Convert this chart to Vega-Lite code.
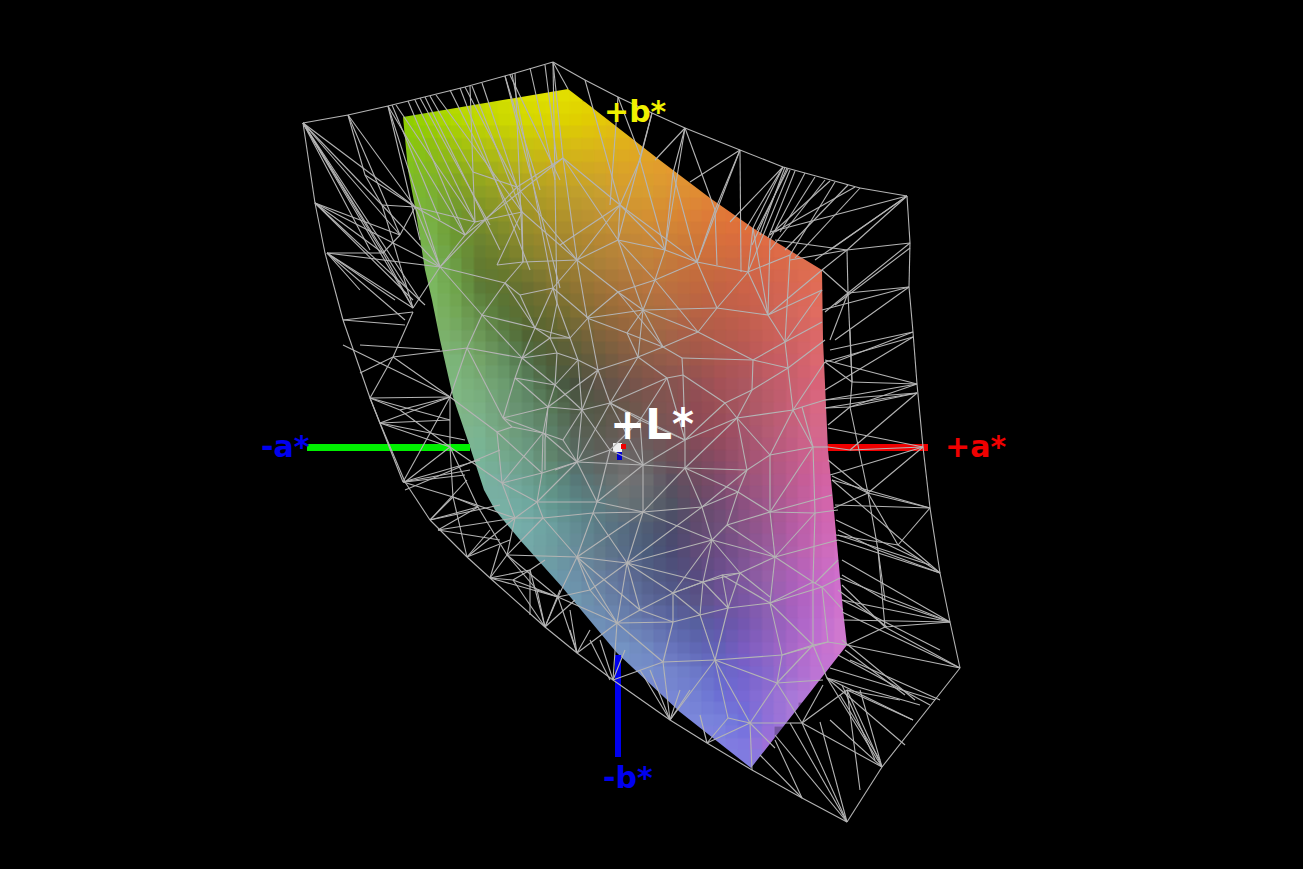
{"$schema":"https://vega.github.io/schema/vega-lite/v6.json","width":1303,"height":869,"padding":0,"autosize":{"type":"none"},"background":"#000000","view":{"stroke":null,"fill":"#000000"},
"config":{"axis":{"disable":true}},
"datasets":{
"cells":[
{"x":432,"y":96,"c":"#a8d800"},{"x":456,"y":96,"c":"#bcdc00"},{"x":480,"y":96,"c":"#c8dc00"},{"x":504,"y":96,"c":"#d4e000"},{"x":528,"y":96,"c":"#dce000"},{"x":552,"y":96,"c":"#e2e000"},{"x":576,"y":96,"c":"#e4dc00"},
{"x":408,"y":120,"c":"#90d000"},{"x":432,"y":120,"c":"#a0d400"},{"x":456,"y":120,"c":"#b0d800"},{"x":480,"y":120,"c":"#c0d800"},{"x":504,"y":120,"c":"#ccd800"},{"x":528,"y":120,"c":"#d4d800"},{"x":552,"y":120,"c":"#dcd400"},{"x":576,"y":120,"c":"#e0d000"},{"x":600,"y":120,"c":"#e4c808"},{"x":624,"y":120,"c":"#e4c010"},
{"x":408,"y":144,"c":"#88c810"},{"x":432,"y":144,"c":"#90c010"},{"x":456,"y":144,"c":"#a0c410"},{"x":480,"y":144,"c":"#b0c410"},{"x":504,"y":144,"c":"#bcc410"},{"x":528,"y":144,"c":"#c8c410"},{"x":552,"y":144,"c":"#d0c010"},{"x":576,"y":144,"c":"#d8bc14"},{"x":600,"y":144,"c":"#dcb818"},{"x":624,"y":144,"c":"#e0b01c"},{"x":648,"y":144,"c":"#e4a824"},
{"x":408,"y":168,"c":"#80c020"},{"x":432,"y":168,"c":"#84b820"},{"x":456,"y":168,"c":"#8cb01c"},{"x":480,"y":168,"c":"#9cb01c"},{"x":504,"y":168,"c":"#acb01c"},{"x":528,"y":168,"c":"#bcb01c"},{"x":552,"y":168,"c":"#c8ac1c"},{"x":576,"y":168,"c":"#d0ac20"},{"x":600,"y":168,"c":"#d4a824"},{"x":624,"y":168,"c":"#dca428"},{"x":648,"y":168,"c":"#e0a02c"},{"x":672,"y":168,"c":"#e49a30"},{"x":696,"y":168,"c":"#e49034"},
{"x":408,"y":192,"c":"#7cbc30"},{"x":432,"y":192,"c":"#7cb030"},{"x":456,"y":192,"c":"#7ca028"},{"x":480,"y":192,"c":"#8ca024"},{"x":504,"y":192,"c":"#9ca024"},{"x":528,"y":192,"c":"#aca024"},{"x":552,"y":192,"c":"#b8a028"},{"x":576,"y":192,"c":"#c0a02c"},{"x":600,"y":192,"c":"#c8a030"},{"x":624,"y":192,"c":"#d49c30"},{"x":648,"y":192,"c":"#d89c30"},{"x":672,"y":192,"c":"#dc9434"},{"x":696,"y":192,"c":"#e08c34"},{"x":720,"y":192,"c":"#e48438"},
{"x":408,"y":216,"c":"#7ab840"},{"x":432,"y":216,"c":"#78b040"},{"x":456,"y":216,"c":"#6f9830"},{"x":480,"y":216,"c":"#7c9028"},{"x":504,"y":216,"c":"#8c9428"},{"x":528,"y":216,"c":"#a09428"},{"x":552,"y":216,"c":"#ac9428"},{"x":576,"y":216,"c":"#b89430"},{"x":600,"y":216,"c":"#c09434"},{"x":624,"y":216,"c":"#cc9434"},{"x":648,"y":216,"c":"#d49034"},{"x":672,"y":216,"c":"#d88834"},{"x":696,"y":216,"c":"#dc8038"},{"x":720,"y":216,"c":"#e07838"},{"x":744,"y":216,"c":"#e47438"},{"x":768,"y":216,"c":"#e47040"},
{"x":408,"y":240,"c":"#7ab84c"},{"x":432,"y":240,"c":"#78b04c"},{"x":456,"y":240,"c":"#6c9834"},{"x":480,"y":240,"c":"#6c8430"},{"x":504,"y":240,"c":"#7c882c"},{"x":528,"y":240,"c":"#90882c"},{"x":552,"y":240,"c":"#a0882c"},{"x":576,"y":240,"c":"#ac8830"},{"x":600,"y":240,"c":"#b88834"},{"x":624,"y":240,"c":"#c08838"},{"x":648,"y":240,"c":"#c88838"},{"x":672,"y":240,"c":"#cc8038"},{"x":696,"y":240,"c":"#d07838"},{"x":720,"y":240,"c":"#d8703c"},{"x":744,"y":240,"c":"#dc6c40"},{"x":768,"y":240,"c":"#e06c44"},{"x":792,"y":240,"c":"#e46c48"},{"x":816,"y":240,"c":"#e46c4c"},
{"x":408,"y":264,"c":"#7ab85c"},{"x":432,"y":264,"c":"#7ab85c"},{"x":456,"y":264,"c":"#6c9c44"},{"x":480,"y":264,"c":"#647c30"},{"x":504,"y":264,"c":"#6c7c2c"},{"x":528,"y":264,"c":"#808030"},{"x":552,"y":264,"c":"#8f8030"},{"x":576,"y":264,"c":"#a08034"},{"x":600,"y":264,"c":"#ac8038"},{"x":624,"y":264,"c":"#b8803c"},{"x":648,"y":264,"c":"#c0803c"},{"x":672,"y":264,"c":"#c4783c"},{"x":696,"y":264,"c":"#c8703c"},{"x":720,"y":264,"c":"#cc6c40"},{"x":744,"y":264,"c":"#d06844"},{"x":768,"y":264,"c":"#d86848"},{"x":792,"y":264,"c":"#dc6c4c"},{"x":816,"y":264,"c":"#e06e50"},{"x":840,"y":264,"c":"#e06e54"},
{"x":408,"y":288,"c":"#7cb860"},{"x":432,"y":288,"c":"#7cb860"},{"x":456,"y":288,"c":"#70a44c"},{"x":480,"y":288,"c":"#5c7c38"},{"x":504,"y":288,"c":"#607430"},{"x":528,"y":288,"c":"#6c7030"},{"x":552,"y":288,"c":"#807430"},{"x":576,"y":288,"c":"#907434"},{"x":600,"y":288,"c":"#a07438"},{"x":624,"y":288,"c":"#ac743c"},{"x":648,"y":288,"c":"#b87440"},{"x":672,"y":288,"c":"#bc7040"},{"x":696,"y":288,"c":"#c06840"},{"x":720,"y":288,"c":"#c46444"},{"x":744,"y":288,"c":"#cc6448"},{"x":768,"y":288,"c":"#d06450"},{"x":792,"y":288,"c":"#d86854"},{"x":816,"y":288,"c":"#e06c58"},{"x":840,"y":288,"c":"#e06c5c"},
{"x":432,"y":312,"c":"#7fb868"},{"x":456,"y":312,"c":"#74a858"},{"x":480,"y":312,"c":"#648c48"},{"x":504,"y":312,"c":"#587438"},{"x":528,"y":312,"c":"#606c30"},{"x":552,"y":312,"c":"#6c6c30"},{"x":576,"y":312,"c":"#807034"},{"x":600,"y":312,"c":"#906c38"},{"x":624,"y":312,"c":"#a06c3c"},{"x":648,"y":312,"c":"#a87040"},{"x":672,"y":312,"c":"#b06c44"},{"x":696,"y":312,"c":"#b86444"},{"x":720,"y":312,"c":"#bc6048"},{"x":744,"y":312,"c":"#c4604c"},{"x":768,"y":312,"c":"#cc6454"},{"x":792,"y":312,"c":"#d4685c"},{"x":816,"y":312,"c":"#e06c60"},{"x":840,"y":312,"c":"#e06c64"},
{"x":432,"y":336,"c":"#80b870"},{"x":456,"y":336,"c":"#78ac68"},{"x":480,"y":336,"c":"#6c9858"},{"x":504,"y":336,"c":"#5c8048"},{"x":528,"y":336,"c":"#506434"},{"x":552,"y":336,"c":"#5c6434"},{"x":576,"y":336,"c":"#6c6438"},{"x":600,"y":336,"c":"#80643c"},{"x":624,"y":336,"c":"#906440"},{"x":648,"y":336,"c":"#9c6844"},{"x":672,"y":336,"c":"#a46448"},{"x":696,"y":336,"c":"#ac5c48"},{"x":720,"y":336,"c":"#b45c4c"},{"x":744,"y":336,"c":"#bc5c50"},{"x":768,"y":336,"c":"#c86058"},{"x":792,"y":336,"c":"#d06460"},{"x":816,"y":336,"c":"#dc6868"},{"x":840,"y":336,"c":"#e0686c"},
{"x":432,"y":360,"c":"#80b878"},{"x":456,"y":360,"c":"#7cb478"},{"x":480,"y":360,"c":"#74a468"},{"x":504,"y":360,"c":"#649060"},{"x":528,"y":360,"c":"#507048"},{"x":552,"y":360,"c":"#505c38"},{"x":576,"y":360,"c":"#5c5c3c"},{"x":600,"y":360,"c":"#6c5c40"},{"x":624,"y":360,"c":"#805c44"},{"x":648,"y":360,"c":"#8c5c48"},{"x":672,"y":360,"c":"#985c4c"},{"x":696,"y":360,"c":"#a0584c"},{"x":720,"y":360,"c":"#ac5850"},{"x":744,"y":360,"c":"#b45858"},{"x":768,"y":360,"c":"#c45c60"},{"x":792,"y":360,"c":"#cc6068"},{"x":816,"y":360,"c":"#dc6870"},{"x":840,"y":360,"c":"#dc6874"},
{"x":432,"y":384,"c":"#80b880"},{"x":456,"y":384,"c":"#7eb880"},{"x":480,"y":384,"c":"#78ac78"},{"x":504,"y":384,"c":"#6c9c70"},{"x":528,"y":384,"c":"#5c8460"},{"x":552,"y":384,"c":"#4c6444"},{"x":576,"y":384,"c":"#485040"},{"x":600,"y":384,"c":"#605448"},{"x":624,"y":384,"c":"#70544c"},{"x":648,"y":384,"c":"#80544c"},{"x":672,"y":384,"c":"#885450"},{"x":696,"y":384,"c":"#945254"},{"x":720,"y":384,"c":"#a45258"},{"x":744,"y":384,"c":"#ac5860"},{"x":768,"y":384,"c":"#bc5c68"},{"x":792,"y":384,"c":"#c86070"},{"x":816,"y":384,"c":"#d86478"},{"x":840,"y":384,"c":"#d8687c"},
{"x":432,"y":408,"c":"#80b888"},{"x":456,"y":408,"c":"#80b888"},{"x":480,"y":408,"c":"#7cb084"},{"x":504,"y":408,"c":"#709c78"},{"x":528,"y":408,"c":"#648c6c"},{"x":552,"y":408,"c":"#587858"},{"x":576,"y":408,"c":"#505c48"},{"x":600,"y":408,"c":"#585848"},{"x":624,"y":408,"c":"#68584c"},{"x":648,"y":408,"c":"#785850"},{"x":672,"y":408,"c":"#845454"},{"x":696,"y":408,"c":"#904c54"},{"x":720,"y":408,"c":"#9c5058"},{"x":744,"y":408,"c":"#a85864"},{"x":768,"y":408,"c":"#b85c6c"},{"x":792,"y":408,"c":"#c86078"},{"x":816,"y":408,"c":"#d86884"},{"x":840,"y":408,"c":"#d86888"},
{"x":456,"y":432,"c":"#80b890"},{"x":480,"y":432,"c":"#7cb490"},{"x":504,"y":432,"c":"#74a480"},{"x":528,"y":432,"c":"#689478"},{"x":552,"y":432,"c":"#5c8068"},{"x":576,"y":432,"c":"#586458"},{"x":600,"y":432,"c":"#5c5c50"},{"x":624,"y":432,"c":"#6c5c58"},{"x":648,"y":432,"c":"#705858"},{"x":672,"y":432,"c":"#7c5458"},{"x":696,"y":432,"c":"#8c4c58"},{"x":720,"y":432,"c":"#984c5c"},{"x":744,"y":432,"c":"#a4546c"},{"x":768,"y":432,"c":"#b45c74"},{"x":792,"y":432,"c":"#c46080"},{"x":816,"y":432,"c":"#d4688c"},{"x":840,"y":432,"c":"#d46890"},
{"x":456,"y":456,"c":"#80b898"},{"x":480,"y":456,"c":"#78b498"},{"x":504,"y":456,"c":"#74a88c"},{"x":528,"y":456,"c":"#6c9c84"},{"x":552,"y":456,"c":"#60846c"},{"x":576,"y":456,"c":"#586c64"},{"x":600,"y":456,"c":"#60605c"},{"x":624,"y":456,"c":"#6c6868"},{"x":648,"y":456,"c":"#686060"},{"x":672,"y":456,"c":"#705058"},{"x":696,"y":456,"c":"#7c4c5c"},{"x":720,"y":456,"c":"#8c4c64"},{"x":744,"y":456,"c":"#a05470"},{"x":768,"y":456,"c":"#b0587c"},{"x":792,"y":456,"c":"#c05c88"},{"x":816,"y":456,"c":"#d46494"},{"x":840,"y":456,"c":"#d86498"},
{"x":456,"y":480,"c":"#78b4a0"},{"x":480,"y":480,"c":"#78b4a0"},{"x":504,"y":480,"c":"#78aca0"},{"x":528,"y":480,"c":"#6ca090"},{"x":552,"y":480,"c":"#609080"},{"x":576,"y":480,"c":"#587878"},{"x":600,"y":480,"c":"#607070"},{"x":624,"y":480,"c":"#747474"},{"x":648,"y":480,"c":"#6c6c70"},{"x":672,"y":480,"c":"#5c5060"},{"x":696,"y":480,"c":"#704c60"},{"x":720,"y":480,"c":"#804c6c"},{"x":744,"y":480,"c":"#985478"},{"x":768,"y":480,"c":"#a85884"},{"x":792,"y":480,"c":"#bc5c90"},{"x":816,"y":480,"c":"#d060a0"},{"x":840,"y":480,"c":"#d868a8"},
{"x":480,"y":504,"c":"#78b0a4"},{"x":504,"y":504,"c":"#78b0a4"},{"x":528,"y":504,"c":"#70a8a0"},{"x":552,"y":504,"c":"#649890"},{"x":576,"y":504,"c":"#5c8888"},{"x":600,"y":504,"c":"#5c7c80"},{"x":624,"y":504,"c":"#687478"},{"x":648,"y":504,"c":"#606870"},{"x":672,"y":504,"c":"#505464"},{"x":696,"y":504,"c":"#644c68"},{"x":720,"y":504,"c":"#744c74"},{"x":744,"y":504,"c":"#8c5080"},{"x":768,"y":504,"c":"#a0588c"},{"x":792,"y":504,"c":"#b85c98"},{"x":816,"y":504,"c":"#cc64a8"},{"x":840,"y":504,"c":"#d868b0"},{"x":864,"y":504,"c":"#d868b0"},
{"x":480,"y":528,"c":"#78b0ac"},{"x":504,"y":528,"c":"#78b0ac"},{"x":528,"y":528,"c":"#74aca8"},{"x":552,"y":528,"c":"#6ca0a0"},{"x":576,"y":528,"c":"#648c94"},{"x":600,"y":528,"c":"#5c7c88"},{"x":624,"y":528,"c":"#566c80"},{"x":648,"y":528,"c":"#505c74"},{"x":672,"y":528,"c":"#4c4c6c"},{"x":696,"y":528,"c":"#604c70"},{"x":720,"y":528,"c":"#70507c"},{"x":744,"y":528,"c":"#885488"},{"x":768,"y":528,"c":"#9c5894"},{"x":792,"y":528,"c":"#b45ca4"},{"x":816,"y":528,"c":"#c864b0"},{"x":840,"y":528,"c":"#d86cb8"},{"x":864,"y":528,"c":"#d86cb8"},
{"x":504,"y":552,"c":"#74a8a8"},{"x":528,"y":552,"c":"#74a8a8"},{"x":552,"y":552,"c":"#6e9ca0"},{"x":576,"y":552,"c":"#688c9c"},{"x":600,"y":552,"c":"#647c8c"},{"x":624,"y":552,"c":"#586c88"},{"x":648,"y":552,"c":"#4c5c7c"},{"x":672,"y":552,"c":"#4c4c74"},{"x":696,"y":552,"c":"#604c78"},{"x":720,"y":552,"c":"#6c4c84"},{"x":744,"y":552,"c":"#805490"},{"x":768,"y":552,"c":"#985ca0"},{"x":792,"y":552,"c":"#b060ac"},{"x":816,"y":552,"c":"#c868b8"},{"x":840,"y":552,"c":"#d470c4"},{"x":864,"y":552,"c":"#d470c4"},
{"x":528,"y":576,"c":"#6c9cac"},{"x":552,"y":576,"c":"#6c9cac"},{"x":576,"y":576,"c":"#6c90a8"},{"x":600,"y":576,"c":"#6880a0"},{"x":624,"y":576,"c":"#607098"},{"x":648,"y":576,"c":"#546088"},{"x":672,"y":576,"c":"#505480"},{"x":696,"y":576,"c":"#584c80"},{"x":720,"y":576,"c":"#6c5090"},{"x":744,"y":576,"c":"#80589c"},{"x":768,"y":576,"c":"#9860a8"},{"x":792,"y":576,"c":"#ac60b8"},{"x":816,"y":576,"c":"#c468c4"},{"x":840,"y":576,"c":"#d070cc"},{"x":864,"y":576,"c":"#d070cc"},
{"x":552,"y":600,"c":"#7098b0"},{"x":576,"y":600,"c":"#7098b0"},{"x":600,"y":600,"c":"#6c88a8"},{"x":624,"y":600,"c":"#6478a4"},{"x":648,"y":600,"c":"#5c6898"},{"x":672,"y":600,"c":"#545c90"},{"x":696,"y":600,"c":"#5a5488"},{"x":720,"y":600,"c":"#6c5498"},{"x":744,"y":600,"c":"#7a58a4"},{"x":768,"y":600,"c":"#9060b0"},{"x":792,"y":600,"c":"#a860bc"},{"x":816,"y":600,"c":"#bc68c8"},{"x":840,"y":600,"c":"#d070cc"},{"x":864,"y":600,"c":"#d070cc"},
{"x":576,"y":624,"c":"#7090b8"},{"x":600,"y":624,"c":"#7090b8"},{"x":624,"y":624,"c":"#6c84b4"},{"x":648,"y":624,"c":"#6878b0"},{"x":672,"y":624,"c":"#5c68a8"},{"x":696,"y":624,"c":"#5860a0"},{"x":720,"y":624,"c":"#6458a8"},{"x":744,"y":624,"c":"#7458b0"},{"x":768,"y":624,"c":"#8c60b8"},{"x":792,"y":624,"c":"#a464c4"},{"x":816,"y":624,"c":"#bc6cd0"},{"x":840,"y":624,"c":"#d078d0"},{"x":864,"y":624,"c":"#d078d0"},
{"x":600,"y":648,"c":"#7494c4"},{"x":624,"y":648,"c":"#7494c4"},{"x":648,"y":648,"c":"#7088c0"},{"x":672,"y":648,"c":"#6874bc"},{"x":696,"y":648,"c":"#6068b4"},{"x":720,"y":648,"c":"#6460b8"},{"x":744,"y":648,"c":"#7c5cc0"},{"x":768,"y":648,"c":"#9064c4"},{"x":792,"y":648,"c":"#a868c8"},{"x":816,"y":648,"c":"#c070d0"},{"x":840,"y":648,"c":"#d078d0"},{"x":864,"y":648,"c":"#d078d0"},
{"x":624,"y":672,"c":"#7890cc"},{"x":648,"y":672,"c":"#7890cc"},{"x":672,"y":672,"c":"#7484cc"},{"x":696,"y":672,"c":"#6c78c8"},{"x":720,"y":672,"c":"#6868c8"},{"x":744,"y":672,"c":"#7464cc"},{"x":768,"y":672,"c":"#8868cc"},{"x":792,"y":672,"c":"#a46cd0"},{"x":816,"y":672,"c":"#bc74d4"},{"x":840,"y":672,"c":"#c874d4"},
{"x":648,"y":696,"c":"#7888d4"},{"x":672,"y":696,"c":"#7888d4"},{"x":696,"y":696,"c":"#7480d4"},{"x":720,"y":696,"c":"#6c70d4"},{"x":744,"y":696,"c":"#7868d4"},{"x":768,"y":696,"c":"#9070d4"},{"x":792,"y":696,"c":"#a878d8"},{"x":816,"y":696,"c":"#bc78d8"},
{"x":672,"y":720,"c":"#7c88dc"},{"x":696,"y":720,"c":"#7c88dc"},{"x":720,"y":720,"c":"#7880dc"},{"x":744,"y":720,"c":"#7070dc"},{"x":768,"y":720,"c":"#9070d8"},{"x":792,"y":720,"c":"#a878d8"},
{"x":696,"y":744,"c":"#8080e0"},{"x":720,"y":744,"c":"#8080e0"},{"x":744,"y":744,"c":"#8078e0"},{"x":768,"y":744,"c":"#a070d8"},{"x":720,"y":768,"c":"#8080e0"},{"x":744,"y":768,"c":"#8080e0"},{"x":768,"y":768,"c":"#9078e0"}
],
"upper":[{"x":0,"y":117},{"x":403,"y":117},{"x":568,"y":89},{"x":585,"y":102},{"x":630,"y":137},{"x":657,"y":158},{"x":710,"y":198},{"x":753,"y":228},{"x":822,"y":270},{"x":823,"y":340},{"x":828,"y":450},{"x":833,"y":500},{"x":843,"y":610},{"x":847,"y":645},{"x":1303,"y":645}],
"lower":[{"x":0,"y":117},{"x":403,"y":117},{"x":408,"y":170},{"x":415,"y":207},{"x":425,"y":270},{"x":432,"y":300},{"x":440,"y":340},{"x":453,"y":397},{"x":470,"y":447},{"x":484,"y":490},{"x":495,"y":510},{"x":520,"y":540},{"x":562,"y":587},{"x":617,"y":653},{"x":680,"y":712},{"x":751,"y":768},{"x":847,"y":645},{"x":1303,"y":645}],
"axes":[{"x":307,"x2":470,"y":444,"y2":451,"c":"#00f000"},{"x":828,"x2":928,"y":444,"y2":451,"c":"#f00000"},{"x":615,"x2":621,"y":655,"y2":757,"c":"#0000f0"},{"x":617,"x2":622,"y":452,"y2":460,"c":"#0000d0"},{"x":613,"x2":622,"y":443,"y2":452,"c":"#f0f0f0"},{"x":621,"x2":626,"y":444,"y2":449,"c":"#f00000"}],
"labels":[{"t":"+L*","x":610,"y":439,"s":42,"c":"#ffffff"},{"t":"+a*","x":945,"y":457,"s":30,"c":"#f00000"},{"t":"-a*","x":261,"y":457,"s":30,"c":"#0000f0"},{"t":"+b*","x":604,"y":122,"s":30,"c":"#f0f000"},{"t":"-b*","x":603,"y":788,"s":30,"c":"#0000f0"}],
"wires":[
{"x":303,"y":123,"x2":348,"y2":115},{"x":348,"y":115,"x2":388,"y2":106},{"x":388,"y":106,"x2":465,"y2":87},{"x":465,"y":87,"x2":512,"y2":74},{"x":512,"y":74,"x2":553,"y2":62},{"x":553,"y":62,"x2":585,"y2":80},{"x":585,"y":80,"x2":618,"y2":97},{"x":618,"y":97,"x2":652,"y2":113},{"x":652,"y":113,"x2":685,"y2":128},{"x":685,"y":128,"x2":740,"y2":150},{"x":740,"y":150,"x2":783,"y2":167},{"x":783,"y":167,"x2":805,"y2":173},{"x":805,"y":173,"x2":860,"y2":188},{"x":860,"y":188,"x2":907,"y2":196},{"x":907,"y":196,"x2":910,"y2":243},{"x":910,"y":243,"x2":909,"y2":287},{"x":909,"y":287,"x2":913,"y2":332},{"x":913,"y":332,"x2":917,"y2":384},{"x":917,"y":384,"x2":923,"y2":447},{"x":923,"y":447,"x2":930,"y2":508},{"x":930,"y":508,"x2":940,"y2":573},{"x":940,"y":573,"x2":950,"y2":622},{"x":950,"y":622,"x2":960,"y2":668},{"x":960,"y":668,"x2":882,"y2":767},{"x":882,"y":767,"x2":847,"y2":822},{"x":847,"y":822,"x2":802,"y2":798},{"x":802,"y":798,"x2":752,"y2":770},{"x":752,"y":770,"x2":707,"y2":743},{"x":707,"y":743,"x2":670,"y2":720},{"x":670,"y":720,"x2":613,"y2":680},{"x":613,"y":680,"x2":577,"y2":653},{"x":577,"y":653,"x2":545,"y2":627},{"x":545,"y":627,"x2":490,"y2":578},{"x":490,"y":578,"x2":467,"y2":557},{"x":467,"y":557,"x2":430,"y2":520},{"x":430,"y":520,"x2":405,"y2":482},{"x":405,"y":482,"x2":380,"y2":423},{"x":380,"y":423,"x2":370,"y2":398},{"x":370,"y":398,"x2":343,"y2":320},{"x":343,"y":320,"x2":325,"y2":253},{"x":325,"y":253,"x2":315,"y2":203},{"x":315,"y":203,"x2":303,"y2":123},
{"x":303,"y":123,"x2":382,"y2":205},{"x":303,"y":123,"x2":400,"y2":235},{"x":303,"y":123,"x2":413,"y2":308},{"x":303,"y":123,"x2":383,"y2":253},{"x":303,"y":123,"x2":415,"y2":207},{"x":348,"y":115,"x2":400,"y2":235},{"x":348,"y":115,"x2":415,"y2":207},{"x":388,"y":106,"x2":440,"y2":267},{"x":388,"y":106,"x2":465,"y2":235},{"x":396,"y":105,"x2":475,"y2":222},{"x":408,"y":101,"x2":465,"y2":235},{"x":415,"y":100,"x2":475,"y2":222},{"x":430,"y":96,"x2":473,"y2":172},{"x":436,"y":95,"x2":522,"y2":212},{"x":465,"y":87,"x2":517,"y2":187},{"x":470,"y":86,"x2":473,"y2":172},{"x":472,"y":86,"x2":522,"y2":212},{"x":482,"y":83,"x2":517,"y2":187},{"x":505,"y":76,"x2":560,"y2":288},{"x":512,"y":74,"x2":553,"y2":288},{"x":515,"y":73,"x2":523,"y2":262},{"x":553,"y":62,"x2":563,"y2":158},{"x":553,"y":62,"x2":557,"y2":303},{"x":553,"y":62,"x2":568,"y2":89},{"x":585,"y":80,"x2":620,"y2":205},{"x":618,"y":97,"x2":610,"y2":205},{"x":618,"y":97,"x2":640,"y2":155},{"x":652,"y":113,"x2":618,"y2":240},{"x":652,"y":113,"x2":640,"y2":160},{"x":685,"y":128,"x2":665,"y2":250},{"x":685,"y":128,"x2":655,"y2":160},{"x":685,"y":128,"x2":715,"y2":210},{"x":685,"y":128,"x2":673,"y2":173},{"x":740,"y":150,"x2":697,"y2":262},{"x":740,"y":150,"x2":690,"y2":182},{"x":740,"y":150,"x2":741,"y2":272},{"x":740,"y":150,"x2":715,"y2":210},
{"x":783,"y":167,"x2":753,"y2":228},{"x":783,"y":167,"x2":730,"y2":222},{"x":788,"y":169,"x2":757,"y2":230},{"x":790,"y":170,"x2":748,"y2":272},{"x":795,"y":171,"x2":768,"y2":238},{"x":805,"y":173,"x2":770,"y2":240},{"x":830,"y":181,"x2":770,"y2":235},{"x":835,"y":182,"x2":790,"y2":255},{"x":855,"y":187,"x2":775,"y2":232},{"x":860,"y":188,"x2":795,"y2":258},{"x":907,"y":196,"x2":770,"y2":232},{"x":907,"y":196,"x2":847,"y2":250},{"x":910,"y":243,"x2":847,"y2":250},{"x":847,"y":250,"x2":775,"y2":240},{"x":847,"y":250,"x2":822,"y2":270},{"x":847,"y":250,"x2":848,"y2":293},{"x":847,"y":250,"x2":790,"y2":260},{"x":910,"y":243,"x2":848,"y2":293},{"x":910,"y":248,"x2":835,"y2":305},{"x":909,"y":287,"x2":848,"y2":293},{"x":909,"y":287,"x2":822,"y2":310},{"x":909,"y":287,"x2":835,"y2":340},{"x":913,"y":332,"x2":830,"y2":350},{"x":913,"y":332,"x2":835,"y2":362},{"x":913,"y":337,"x2":825,"y2":362},{"x":822,"y":270,"x2":848,"y2":293},{"x":848,"y":293,"x2":830,"y2":340},{"x":848,"y":293,"x2":825,"y2":312},{"x":917,"y":384,"x2":852,"y2":382},{"x":917,"y":384,"x2":825,"y2":360},{"x":917,"y":393,"x2":850,"y2":407},{"x":917,"y":393,"x2":825,"y2":408},{"x":917,"y":393,"x2":850,"y2":450},{"x":852,"y":382,"x2":825,"y2":362},{"x":852,"y":382,"x2":850,"y2":407},{"x":850,"y":407,"x2":825,"y2":408},{"x":850,"y":407,"x2":828,"y2":425},{"x":850,"y":407,"x2":868,"y2":493},{"x":923,"y":447,"x2":828,"y2":428},{"x":923,"y":447,"x2":868,"y2":493},{"x":923,"y":447,"x2":830,"y2":475},{"x":868,"y":493,"x2":832,"y2":476},{"x":868,"y":493,"x2":930,"y2":508},{"x":868,"y":493,"x2":834,"y2":508},{"x":868,"y":493,"x2":898,"y2":545},{"x":868,"y":493,"x2":878,"y2":550},{"x":930,"y":508,"x2":835,"y2":505},{"x":930,"y":508,"x2":832,"y2":480},{"x":930,"y":508,"x2":898,"y2":545},{"x":878,"y":550,"x2":838,"y2":530},{"x":898,"y":545,"x2":836,"y2":535},{"x":940,"y":573,"x2":838,"y2":540},{"x":940,"y":573,"x2":878,"y2":550},{"x":940,"y":573,"x2":898,"y2":545},{"x":878,"y":550,"x2":885,"y2":627},{"x":885,"y":627,"x2":950,"y2":622},{"x":885,"y":627,"x2":842,"y2":585},{"x":885,"y":627,"x2":847,"y2":645},{"x":950,"y":622,"x2":842,"y2":560},{"x":950,"y":622,"x2":840,"y2":578},{"x":960,"y":668,"x2":885,"y2":627},{"x":960,"y":668,"x2":847,"y2":645},{"x":960,"y":668,"x2":842,"y2":612},{"x":847,"y":690,"x2":900,"y2":700},{"x":827,"y":678,"x2":913,"y2":720},{"x":827,"y":678,"x2":920,"y2":705},{"x":830,"y":668,"x2":935,"y2":700},{"x":847,"y":690,"x2":882,"y2":767},{"x":842,"y":685,"x2":875,"y2":760},{"x":847,"y":690,"x2":913,"y2":720},{"x":827,"y":678,"x2":882,"y2":767},{"x":838,"y":655,"x2":930,"y2":705},{"x":802,"y":723,"x2":882,"y2":767},{"x":802,"y":723,"x2":847,"y2":822},{"x":790,"y":723,"x2":847,"y2":822},{"x":820,"y":722,"x2":847,"y2":822},{"x":830,"y":720,"x2":882,"y2":767},{"x":775,"y":735,"x2":847,"y2":822},{"x":775,"y":740,"x2":802,"y2":798},{"x":760,"y":755,"x2":802,"y2":798},{"x":823,"y":685,"x2":802,"y2":723},{"x":802,"y":723,"x2":790,"y2":723},{"x":847,"y":690,"x2":802,"y2":723},{"x":847,"y":690,"x2":860,"y2":790},
{"x":563,"y":158,"x2":620,"y2":205},{"x":563,"y":158,"x2":517,"y2":187},{"x":563,"y":158,"x2":577,"y2":260},{"x":620,"y":205,"x2":618,"y2":240},{"x":618,"y":240,"x2":577,"y2":260},{"x":618,"y":240,"x2":665,"y2":250},{"x":618,"y":240,"x2":655,"y2":280},{"x":665,"y":250,"x2":697,"y2":262},{"x":665,"y":250,"x2":655,"y2":280},{"x":697,"y":262,"x2":748,"y2":272},{"x":697,"y":262,"x2":717,"y2":308},{"x":697,"y":262,"x2":655,"y2":280},{"x":748,"y":272,"x2":768,"y2":315},{"x":748,"y":272,"x2":717,"y2":308},{"x":768,"y":315,"x2":822,"y2":290},{"x":768,"y":315,"x2":717,"y2":308},{"x":768,"y":315,"x2":785,"y2":342},{"x":785,"y":342,"x2":822,"y2":322},{"x":717,"y":308,"x2":698,"y2":332},{"x":655,"y":280,"x2":643,"y2":310},{"x":655,"y":280,"x2":698,"y2":332},{"x":643,"y":310,"x2":698,"y2":332},{"x":643,"y":310,"x2":663,"y2":347},{"x":698,"y":332,"x2":663,"y2":347},{"x":643,"y":310,"x2":618,"y2":292},{"x":618,"y":292,"x2":577,"y2":260},{"x":618,"y":292,"x2":655,"y2":280},{"x":618,"y":292,"x2":587,"y2":318},{"x":577,"y":260,"x2":587,"y2":318},{"x":577,"y":260,"x2":523,"y2":262},{"x":577,"y":260,"x2":553,"y2":288},{"x":517,"y":187,"x2":522,"y2":212},{"x":473,"y":172,"x2":517,"y2":187},{"x":475,"y":222,"x2":522,"y2":212},{"x":475,"y":222,"x2":465,"y2":235},{"x":465,"y":235,"x2":440,"y2":267},{"x":440,"y":267,"x2":505,"y2":283},{"x":505,"y":283,"x2":523,"y2":262},{"x":497,"y":265,"x2":523,"y2":262},{"x":505,"y":283,"x2":520,"y2":295},{"x":520,"y":295,"x2":553,"y2":288},{"x":553,"y":288,"x2":557,"y2":303},{"x":505,"y":283,"x2":482,"y2":315},{"x":440,"y":267,"x2":413,"y2":308},{"x":440,"y":267,"x2":482,"y2":315},{"x":415,"y":207,"x2":382,"y2":205},{"x":415,"y":207,"x2":400,"y2":235},{"x":400,"y":235,"x2":383,"y2":253},{"x":383,"y":253,"x2":327,"y2":253},{"x":327,"y":253,"x2":413,"y2":308},{"x":327,"y":253,"x2":440,"y2":267},{"x":315,"y":203,"x2":383,"y2":253},{"x":315,"y":203,"x2":400,"y2":235},{"x":315,"y":203,"x2":440,"y2":267},{"x":383,"y":253,"x2":413,"y2":308},{"x":415,"y":207,"x2":440,"y2":267},{"x":415,"y":207,"x2":465,"y2":235},{"x":415,"y":207,"x2":475,"y2":222},{"x":382,"y":205,"x2":413,"y2":308},{"x":382,"y":205,"x2":440,"y2":267},{"x":473,"y":172,"x2":475,"y2":222},{"x":517,"y":187,"x2":440,"y2":267},{"x":522,"y":212,"x2":523,"y2":262},{"x":522,"y":212,"x2":497,"y2":265},{"x":563,"y":158,"x2":465,"y2":235},{"x":620,"y":205,"x2":577,"y2":260},{"x":563,"y":158,"x2":618,"y2":240},{"x":618,"y":240,"x2":643,"y2":310},
{"x":413,"y":312,"x2":393,"y2":357},{"x":393,"y":357,"x2":467,"y2":348},{"x":393,"y":357,"x2":450,"y2":397},{"x":393,"y":357,"x2":370,"y2":398},{"x":393,"y":357,"x2":360,"y2":373},{"x":343,"y":320,"x2":413,"y2":312},{"x":343,"y":345,"x2":450,"y2":397},{"x":360,"y":345,"x2":440,"y2":350},{"x":370,"y":398,"x2":450,"y2":397},{"x":370,"y":398,"x2":450,"y2":420},{"x":370,"y":398,"x2":403,"y2":482},{"x":380,"y":423,"x2":450,"y2":397},{"x":380,"y":423,"x2":465,"y2":440},{"x":380,"y":423,"x2":450,"y2":447},{"x":450,"y":397,"x2":403,"y2":482},{"x":450,"y":397,"x2":450,"y2":447},{"x":403,"y":482,"x2":480,"y2":460},{"x":403,"y":482,"x2":453,"y2":497},{"x":403,"y":482,"x2":470,"y2":470},{"x":405,"y":490,"x2":500,"y2":450},{"x":430,"y":520,"x2":453,"y2":497},{"x":430,"y":520,"x2":478,"y2":507},{"x":438,"y":530,"x2":515,"y2":518},{"x":438,"y":530,"x2":478,"y2":507},{"x":467,"y":557,"x2":515,"y2":518},{"x":467,"y":557,"x2":453,"y2":497},{"x":450,"y":447,"x2":453,"y2":497},{"x":453,"y":497,"x2":515,"y2":518},{"x":453,"y":497,"x2":478,"y2":507},{"x":478,"y":507,"x2":507,"y2":555},{"x":450,"y":447,"x2":502,"y2":483},{"x":450,"y":447,"x2":478,"y2":507},{"x":467,"y":348,"x2":482,"y2":315},{"x":467,"y":348,"x2":522,"y2":358},{"x":467,"y":348,"x2":503,"y2":418},{"x":467,"y":348,"x2":450,"y2":397},{"x":482,"y":315,"x2":535,"y2":328},{"x":482,"y":315,"x2":522,"y2":358},{"x":535,"y":328,"x2":522,"y2":358},{"x":535,"y":328,"x2":550,"y2":338},{"x":550,"y":338,"x2":570,"y2":338},{"x":550,"y":338,"x2":557,"y2":353},{"x":570,"y":338,"x2":578,"y2":360},{"x":570,"y":338,"x2":588,"y2":318},{"x":588,"y":318,"x2":643,"y2":310},{"x":588,"y":318,"x2":598,"y2":370},{"x":557,"y":353,"x2":578,"y2":360},{"x":578,"y":360,"x2":598,"y2":370},{"x":598,"y":370,"x2":638,"y2":357},{"x":643,"y":310,"x2":638,"y2":357},{"x":638,"y":357,"x2":663,"y2":347},{"x":663,"y":347,"x2":682,"y2":358},{"x":682,"y":358,"x2":683,"y2":375},{"x":683,"y":375,"x2":667,"y2":378},{"x":638,"y":357,"x2":667,"y2":378},{"x":522,"y":358,"x2":557,"y2":353},{"x":522,"y":358,"x2":515,"y2":378},{"x":515,"y":378,"x2":555,"y2":385},{"x":515,"y":378,"x2":503,"y2":418},{"x":522,"y":358,"x2":555,"y2":385},{"x":555,"y":385,"x2":548,"y2":407},{"x":555,"y":385,"x2":578,"y2":360},{"x":548,"y":407,"x2":503,"y2":418},{"x":548,"y":407,"x2":582,"y2":410},{"x":582,"y":410,"x2":610,"y2":403},{"x":598,"y":370,"x2":610,"y2":403},{"x":598,"y":370,"x2":582,"y2":410},{"x":610,"y":403,"x2":638,"y2":357},{"x":610,"y":403,"x2":667,"y2":378},{"x":503,"y":418,"x2":512,"y2":427},{"x":512,"y":427,"x2":497,"y2":432},{"x":497,"y":432,"x2":450,"y2":397},{"x":497,"y":432,"x2":502,"y2":483},{"x":512,"y":427,"x2":543,"y2":433},{"x":543,"y":433,"x2":548,"y2":407},{"x":543,"y":433,"x2":577,"y2":462},{"x":543,"y":433,"x2":542,"y2":473},{"x":582,"y":410,"x2":577,"y2":462},{"x":610,"y":403,"x2":577,"y2":462},{"x":577,"y":462,"x2":542,"y2":473},{"x":542,"y":473,"x2":502,"y2":483},{"x":502,"y":483,"x2":515,"y2":518},{"x":542,"y":473,"x2":537,"y2":502},{"x":537,"y":502,"x2":543,"y2":518},{"x":543,"y":518,"x2":515,"y2":518},{"x":543,"y":518,"x2":593,"y2":513},{"x":537,"y":502,"x2":597,"y2":502},{"x":577,"y":462,"x2":597,"y2":502},{"x":577,"y":462,"x2":537,"y2":502},{"x":577,"y":462,"x2":643,"y2":465},{"x":597,"y":502,"x2":643,"y2":465},{"x":597,"y":502,"x2":593,"y2":513},{"x":593,"y":513,"x2":643,"y2":512},{"x":643,"y":465,"x2":643,"y2":512},{"x":643,"y":465,"x2":685,"y2":468},{"x":643,"y":465,"x2":685,"y2":440},{"x":685,"y":440,"x2":685,"y2":468},{"x":685,"y":468,"x2":702,"y2":507},{"x":643,"y":512,"x2":702,"y2":507},{"x":643,"y":512,"x2":712,"y2":540},{"x":643,"y":512,"x2":627,"y2":563},{"x":593,"y":513,"x2":627,"y2":563},{"x":593,"y":513,"x2":577,"y2":557},{"x":543,"y":518,"x2":577,"y2":557},{"x":543,"y":518,"x2":507,"y2":555},{"x":515,"y":518,"x2":507,"y2":555},{"x":507,"y":555,"x2":577,"y2":557},{"x":577,"y":557,"x2":627,"y2":563},{"x":627,"y":563,"x2":673,"y2":593},{"x":627,"y":563,"x2":712,"y2":540},{"x":577,"y":557,"x2":617,"y2":623},{"x":577,"y":557,"x2":558,"y2":597},{"x":507,"y":555,"x2":558,"y2":597},{"x":507,"y":555,"x2":490,"y2":578},{"x":558,"y":597,"x2":617,"y2":623},{"x":558,"y":597,"x2":545,"y2":627},{"x":558,"y":597,"x2":577,"y2":653},{"x":617,"y":623,"x2":577,"y2":653},{"x":617,"y":623,"x2":613,"y2":680},{"x":617,"y":623,"x2":663,"y2":662},{"x":617,"y":623,"x2":673,"y2":622},{"x":627,"y":563,"x2":617,"y2":623},{"x":673,"y":593,"x2":673,"y2":622},{"x":673,"y":622,"x2":663,"y2":662},{"x":673,"y":622,"x2":700,"y2":615},{"x":700,"y":615,"x2":728,"y2":608},{"x":673,"y":593,"x2":722,"y2":575},{"x":722,"y":575,"x2":728,"y2":608},{"x":722,"y":575,"x2":770,"y2":603},{"x":728,"y":608,"x2":770,"y2":603},{"x":728,"y":608,"x2":715,"y2":660},{"x":700,"y":615,"x2":715,"y2":660},{"x":663,"y":662,"x2":715,"y2":660},{"x":663,"y":662,"x2":613,"y2":680},{"x":663,"y":662,"x2":670,"y2":720},{"x":715,"y":660,"x2":670,"y2":720},{"x":715,"y":660,"x2":728,"y2":718},{"x":715,"y":660,"x2":750,"y2":723},{"x":715,"y":660,"x2":782,"y2":655},{"x":715,"y":660,"x2":777,"y2":683},{"x":782,"y":655,"x2":777,"y2":683},{"x":782,"y":655,"x2":813,"y2":645},{"x":813,"y":645,"x2":777,"y2":683},{"x":777,"y":683,"x2":750,"y2":723},{"x":777,"y":683,"x2":823,"y2":680},{"x":813,"y":645,"x2":828,"y2":642},{"x":828,"y":642,"x2":847,"y2":645},{"x":813,"y":645,"x2":827,"y2":678},{"x":728,"y":718,"x2":750,"y2":723},{"x":728,"y":718,"x2":707,"y2":743},{"x":750,"y":723,"x2":752,"y2":770},{"x":750,"y":723,"x2":707,"y2":743},{"x":750,"y":723,"x2":790,"y2":723},{"x":770,"y":603,"x2":782,"y2":655},{"x":770,"y":603,"x2":813,"y2":582},{"x":770,"y":603,"x2":813,"y2":645},{"x":813,"y":582,"x2":822,"y2":587},{"x":822,"y":587,"x2":828,"y2":642},{"x":822,"y":587,"x2":843,"y2":610},{"x":813,"y":582,"x2":815,"y2":513},{"x":822,"y":587,"x2":840,"y2":578},{"x":815,"y":513,"x2":838,"y2":510},{"x":815,"y":513,"x2":770,"y2":512},{"x":815,"y":513,"x2":775,"y2":557},{"x":775,"y":557,"x2":813,"y2":582},{"x":775,"y":557,"x2":770,"y2":512},{"x":775,"y":557,"x2":740,"y2":573},{"x":740,"y":573,"x2":770,"y2":597},{"x":740,"y":573,"x2":703,"y2":582},{"x":740,"y":573,"x2":722,"y2":575},{"x":703,"y":582,"x2":673,"y2":593},{"x":712,"y":540,"x2":703,"y2":582},{"x":712,"y":540,"x2":740,"y2":573},{"x":712,"y":540,"x2":727,"y2":525},{"x":727,"y":525,"x2":738,"y2":492},{"x":738,"y":492,"x2":702,"y2":507},{"x":702,"y":507,"x2":712,"y2":540},{"x":738,"y":492,"x2":770,"y2":512},{"x":738,"y":492,"x2":747,"y2":470},{"x":747,"y":470,"x2":770,"y2":455},{"x":770,"y":455,"x2":770,"y2":512},{"x":770,"y":455,"x2":813,"y2":447},{"x":813,"y":447,"x2":815,"y2":513},{"x":813,"y":447,"x2":828,"y2":447},{"x":770,"y":455,"x2":737,"y2":418},{"x":770,"y":455,"x2":793,"y2":410},{"x":737,"y":418,"x2":747,"y2":470},{"x":737,"y":418,"x2":725,"y2":403},{"x":737,"y":418,"x2":793,"y2":410},{"x":725,"y":403,"x2":752,"y2":390},{"x":752,"y":390,"x2":737,"y2":418},{"x":752,"y":390,"x2":753,"y2":360},{"x":725,"y":403,"x2":683,"y2":375},{"x":725,"y":403,"x2":685,"y2":440},{"x":753,"y":360,"x2":788,"y2":368},{"x":788,"y":368,"x2":793,"y2":410},{"x":793,"y":410,"x2":802,"y2":407},{"x":802,"y":407,"x2":825,"y2":400},{"x":802,"y":407,"x2":813,"y2":447},{"x":788,"y":368,"x2":785,"y2":342},{"x":785,"y":342,"x2":753,"y2":360},{"x":753,"y":360,"x2":698,"y2":332},{"x":753,"y":360,"x2":682,"y2":358},{"x":752,"y":390,"x2":788,"y2":368},{"x":685,"y":468,"x2":747,"y2":470},{"x":685,"y":468,"x2":737,"y2":418},{"x":747,"y":470,"x2":702,"y2":507},{"x":727,"y":525,"x2":775,"y2":557},{"x":770,"y":512,"x2":727,"y2":525},{"x":788,"y":368,"x2":825,"y2":340},{"x":793,"y":410,"x2":825,"y2":362},{"x":813,"y":447,"x2":793,"y2":410},{"x":683,"y":375,"x2":685,"y2":440},{"x":685,"y":440,"x2":737,"y2":418},{"x":610,"y":403,"x2":643,"y2":465},{"x":667,"y":378,"x2":685,"y2":440},{"x":610,"y":403,"x2":685,"y2":440},{"x":577,"y":557,"x2":643,"y2":512},{"x":490,"y":578,"x2":558,"y2":597},{"x":490,"y":578,"x2":513,"y2":580},{"x":513,"y":580,"x2":545,"y2":627},{"x":513,"y":580,"x2":558,"y2":597},{"x":530,"y":570,"x2":530,"y2":615},{"x":545,"y":627,"x2":575,"y2":600},{"x":590,"y":640,"x2":610,"y2":680},{"x":570,"y":630,"x2":577,"y2":653},{"x":670,"y":720,"x2":680,"y2":690},{"x":640,"y":670,"x2":670,"y2":720},{"x":707,"y":743,"x2":700,"y2":715},{"x":750,"y":723,"x2":775,"y2":748},{"x":777,"y":683,"x2":802,"y2":723},
{"x":303,"y":123,"x2":420,"y2":300},{"x":303,"y":123,"x2":408,"y2":290},{"x":303,"y":123,"x2":370,"y2":250},{"x":315,"y":203,"x2":413,"y2":300},{"x":315,"y":203,"x2":425,"y2":305},{"x":327,"y":253,"x2":405,"y2":320},{"x":327,"y":253,"x2":395,"y2":300},{"x":327,"y":253,"x2":360,"y2":290},{"x":343,"y":320,"x2":405,"y2":325},{"x":348,"y":115,"x2":365,"y2":175},{"x":365,"y":175,"x2":415,"y2":207},{"x":365,"y":175,"x2":382,"y2":205},{"x":388,"y":106,"x2":420,"y2":240},{"x":392,"y":105,"x2":440,"y2":220},{"x":420,"y":98,"x2":490,"y2":225},{"x":425,"y":97,"x2":500,"y2":250},{"x":450,"y":90,"x2":520,"y2":230},{"x":460,"y":88,"x2":530,"y2":270},{"x":505,"y":76,"x2":540,"y2":190},{"x":510,"y":75,"x2":560,"y2":180},{"x":530,"y":68,"x2":555,"y2":180},{"x":545,"y":65,"x2":557,"y2":160},{"x":517,"y":187,"x2":577,"y2":260},{"x":522,"y":212,"x2":577,"y2":260},{"x":620,"y":205,"x2":665,"y2":250},{"x":620,"y":205,"x2":697,"y2":262},{"x":620,"y":205,"x2":560,"y2":245},{"x":640,"y":160,"x2":620,"y2":205},{"x":640,"y":160,"x2":665,"y2":250},{"x":673,"y":173,"x2":665,"y2":250},{"x":673,"y":173,"x2":697,"y2":262},{"x":715,"y":210,"x2":697,"y2":262},{"x":715,"y":210,"x2":717,"y2":265},{"x":753,"y":228,"x2":748,"y2":272},{"x":753,"y":228,"x2":768,"y2":315},{"x":770,"y":240,"x2":768,"y2":315},{"x":790,"y":255,"x2":785,"y2":342},{"x":822,"y":270,"x2":768,"y2":315},{"x":822,"y":290,"x2":785,"y2":342},{"x":748,"y":272,"x2":790,"y2":255},{"x":643,"y":310,"x2":717,"y2":308},{"x":618,"y":292,"x2":663,"y2":347},{"x":587,"y":318,"x2":627,"y2":333},{"x":627,"y":333,"x2":663,"y2":347},{"x":627,"y":333,"x2":638,"y2":357},{"x":627,"y":333,"x2":643,"y2":310},{"x":535,"y":328,"x2":570,"y2":338},{"x":535,"y":328,"x2":553,"y2":288},{"x":557,"y":303,"x2":550,"y2":338},{"x":557,"y":303,"x2":570,"y2":338},{"x":553,"y":288,"x2":588,"y2":318},{"x":520,"y":295,"x2":535,"y2":328},{"x":505,"y":283,"x2":535,"y2":328},{"x":522,"y":358,"x2":550,"y2":338},{"x":557,"y":353,"x2":555,"y2":385},{"x":578,"y":360,"x2":582,"y2":410},{"x":555,"y":385,"x2":582,"y2":410},{"x":548,"y":407,"x2":598,"y2":370},{"x":515,"y":378,"x2":548,"y2":407},{"x":503,"y":418,"x2":543,"y2":433},{"x":497,"y":432,"x2":542,"y2":473},{"x":502,"y":483,"x2":543,"y2":433},{"x":502,"y":483,"x2":537,"y2":502},{"x":515,"y":518,"x2":537,"y2":502},{"x":610,"y":403,"x2":640,"y2":420},{"x":640,"y":420,"x2":643,"y2":465},{"x":640,"y":420,"x2":685,"y2":440},{"x":640,"y":420,"x2":667,"y2":378},{"x":577,"y":462,"x2":610,"y2":450},{"x":610,"y":450,"x2":643,"y2":465},{"x":610,"y":450,"x2":597,"y2":502},{"x":610,"y":450,"x2":640,"y2":420},{"x":597,"y":502,"x2":643,"y2":512},{"x":582,"y":410,"x2":610,"y2":450},{"x":563,"y":440,"x2":577,"y2":462},{"x":563,"y":440,"x2":543,"y2":433},{"x":563,"y":440,"x2":582,"y2":410},{"x":545,"y":440,"x2":545,"y2":470},{"x":548,"y":407,"x2":545,"y2":440},{"x":555,"y":470,"x2":577,"y2":462},{"x":643,"y":512,"x2":685,"y2":468},{"x":702,"y":507,"x2":627,"y2":563},{"x":685,"y":468,"x2":738,"y2":492},{"x":712,"y":540,"x2":673,"y2":593},{"x":627,"y":563,"x2":703,"y2":582},{"x":627,"y":563,"x2":640,"y2":610},{"x":640,"y":610,"x2":673,"y2":622},{"x":640,"y":610,"x2":617,"y2":623},{"x":640,"y":610,"x2":673,"y2":593},{"x":577,"y":557,"x2":640,"y2":610},{"x":558,"y":597,"x2":590,"y2":590},{"x":590,"y":590,"x2":617,"y2":623},{"x":590,"y":590,"x2":627,"y2":563},{"x":577,"y":557,"x2":590,"y2":590},{"x":507,"y":555,"x2":537,"y2":590},{"x":537,"y":590,"x2":558,"y2":597},{"x":537,"y":590,"x2":545,"y2":627},{"x":673,"y":593,"x2":700,"y2":615},{"x":703,"y":582,"x2":700,"y2":615},{"x":703,"y":582,"x2":728,"y2":608},{"x":740,"y":573,"x2":728,"y2":608},{"x":775,"y":557,"x2":770,"y2":603},{"x":813,"y":582,"x2":813,"y2":645},{"x":770,"y":603,"x2":822,"y2":587},{"x":782,"y":655,"x2":828,"y2":642},{"x":815,"y":583,"x2":838,"y2":560},{"x":775,"y":557,"x2":838,"y2":540},{"x":712,"y":540,"x2":775,"y2":557},{"x":813,"y":447,"x2":770,"y2":512},{"x":770,"y":512,"x2":832,"y2":495},{"x":370,"y":398,"x2":400,"y2":410},{"x":400,"y":410,"x2":450,"y2":397},{"x":400,"y":410,"x2":450,"y2":447},{"x":380,"y":423,"x2":450,"y2":420},{"x":405,"y":482,"x2":450,"y2":447},{"x":405,"y":482,"x2":465,"y2":475},{"x":430,"y":520,"x2":500,"y2":505},{"x":430,"y":520,"x2":467,"y2":480},{"x":438,"y":530,"x2":500,"y2":540},{"x":467,"y":557,"x2":490,"y2":530},{"x":467,"y":557,"x2":510,"y2":540},{"x":490,"y":578,"x2":500,"y2":545},{"x":490,"y":578,"x2":530,"y2":570},{"x":513,"y":580,"x2":530,"y2":570},{"x":530,"y":570,"x2":545,"y2":560},{"x":545,"y":627,"x2":560,"y2":590},{"x":545,"y":627,"x2":530,"y2":570},{"x":577,"y":653,"x2":570,"y2":610},{"x":577,"y":653,"x2":590,"y2":630},{"x":613,"y":680,"x2":600,"y2":640},{"x":613,"y":680,"x2":625,"y2":650},{"x":670,"y":720,"x2":650,"y2":670},{"x":670,"y":720,"x2":690,"y2":690},{"x":842,"y":640,"x2":915,"y2":700},{"x":845,"y":650,"x2":905,"y2":695},{"x":850,"y":660,"x2":940,"y2":700},{"x":827,"y":678,"x2":905,"y2":745},{"x":860,"y":690,"x2":882,"y2":767},{"x":840,"y":695,"x2":880,"y2":760},{"x":885,"y":600,"x2":878,"y2":550},{"x":885,"y":600,"x2":950,"y2":622},{"x":885,"y":600,"x2":842,"y2":575},{"x":842,"y":600,"x2":950,"y2":622},{"x":842,"y":600,"x2":940,"y2":650},{"x":838,"y":590,"x2":887,"y2":627},{"x":843,"y":620,"x2":950,"y2":622},{"x":783,"y":167,"x2":745,"y2":230},{"x":785,"y":167,"x2":760,"y2":235},{"x":787,"y":168,"x2":752,"y2":245},{"x":815,"y":177,"x2":780,"y2":232},{"x":825,"y":180,"x2":770,"y2":250},{"x":848,"y":185,"x2":785,"y2":250},{"x":907,"y":196,"x2":830,"y2":250},{"x":907,"y":196,"x2":815,"y2":260},{"x":850,"y":407,"x2":917,"y2":384},{"x":825,"y":400,"x2":917,"y2":384},{"x":825,"y":400,"x2":917,"y2":393},{"x":825,"y":390,"x2":913,"y2":337},{"x":852,"y":382,"x2":850,"y2":330},{"x":848,"y":293,"x2":852,"y2":382},{"x":828,"y":460,"x2":868,"y2":493},{"x":828,"y":447,"x2":850,"y2":450},{"x":850,"y":450,"x2":923,"y2":447},{"x":832,"y":480,"x2":940,"y2":573},{"x":836,"y":520,"x2":920,"y2":560},{"x":838,"y":535,"x2":930,"y2":565}
]},
"layer":[
{"data":{"name":"cells"},"mark":{"type":"rect","width":25,"height":25,"xOffset":-6,"yOffset":-6},"encoding":{"x":{"field":"x","type":"quantitative","scale":{"domain":[0,1303],"nice":false,"zero":false},"axis":null},"y":{"field":"y","type":"quantitative","scale":{"domain":[869,0],"nice":false,"zero":false},"axis":null},"color":{"field":"c","type":"nominal","scale":null}}},
{"data":{"name":"cells"},"mark":{"type":"rect","width":25,"height":25,"xOffset":6,"yOffset":6,"opacity":0.5},"encoding":{"x":{"field":"x","type":"quantitative"},"y":{"field":"y","type":"quantitative"},"color":{"field":"c","type":"nominal","scale":null}}},
{"data":{"name":"cells"},"mark":{"type":"rect","width":25,"height":25,"xOffset":6,"yOffset":-6,"opacity":0.333},"encoding":{"x":{"field":"x","type":"quantitative"},"y":{"field":"y","type":"quantitative"},"color":{"field":"c","type":"nominal","scale":null}}},
{"data":{"name":"cells"},"mark":{"type":"rect","width":25,"height":25,"xOffset":-6,"yOffset":6,"opacity":0.25},"encoding":{"x":{"field":"x","type":"quantitative"},"y":{"field":"y","type":"quantitative"},"color":{"field":"c","type":"nominal","scale":null}}},
{"data":{"name":"upper"},"mark":{"type":"area","color":"#000000","opacity":1,"interpolate":"linear"},"encoding":{"x":{"field":"x","type":"quantitative"},"y":{"field":"y","type":"quantitative"},"y2":{"datum":0}}},
{"data":{"name":"lower"},"mark":{"type":"area","color":"#000000","opacity":1,"interpolate":"linear"},"encoding":{"x":{"field":"x","type":"quantitative"},"y":{"field":"y","type":"quantitative"},"y2":{"datum":869}}},
{"data":{"name":"axes"},"mark":{"type":"rect"},"encoding":{"x":{"field":"x","type":"quantitative"},"x2":{"field":"x2"},"y":{"field":"y","type":"quantitative"},"y2":{"field":"y2"},"color":{"field":"c","type":"nominal","scale":null}}},
{"data":{"name":"wires"},"mark":{"type":"rule","color":"#b4b4b4","strokeWidth":1.1},"encoding":{"x":{"field":"x","type":"quantitative"},"x2":{"field":"x2"},"y":{"field":"y","type":"quantitative"},"y2":{"field":"y2"}}},
{"data":{"name":"labels"},"mark":{"type":"text","font":"DejaVu Sans","fontWeight":"bold","align":"left","baseline":"alphabetic"},"encoding":{"x":{"field":"x","type":"quantitative"},"y":{"field":"y","type":"quantitative"},"text":{"field":"t"},"size":{"field":"s","type":"quantitative","scale":null},"color":{"field":"c","type":"nominal","scale":null}}}
]}
